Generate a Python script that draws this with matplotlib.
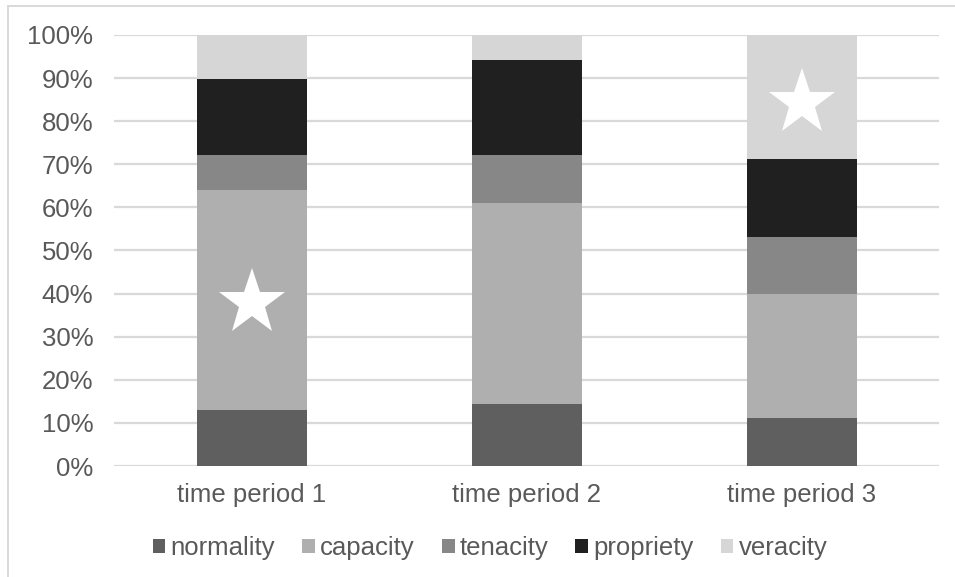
import matplotlib
matplotlib.use("Agg")
import matplotlib.pyplot as plt
import matplotlib.patches as mpatches
import numpy as np

plt.rcParams['font.family'] = ['Liberation Sans', 'DejaVu Sans']

# data (percent of each period)
periods = ["time period 1", "time period 2", "time period 3"]
series = ["normality", "capacity", "tenacity", "propriety", "veracity"]
normality = [13.0, 14.5, 11.1]
capacity = [51.0, 46.5, 28.8]
tenacity = [8.1, 11.1, 13.3]
propriety = [17.6, 22.0, 18.0]
veracity = [10.3, 5.9, 28.8]
colors = ["#5f5f5f", "#afafaf", "#878787", "#202020", "#d6d6d6"]

# white stars drawn on top of some bars
star_bars = [0, 2]
star_values = [37.8, 84.2]

text_color = "#595959"
grid_color = "#d9d9d9"

fig = plt.figure(figsize=(9.55, 5.77), dpi=100)
ax = fig.add_axes([114/955, 1 - 466/577, (939 - 114)/955, (466 - 35)/577])

x = np.arange(len(periods))
bottom = np.zeros(len(periods))
for name, vals, c in zip(series, [normality, capacity, tenacity, propriety, veracity], colors):
    ax.bar(x, vals, width=0.4, bottom=bottom, color=c, label=name, zorder=2)
    bottom += np.array(vals)

ax.plot(x[star_bars], star_values, linestyle="none", marker="*", markersize=50,
        color="white", markeredgewidth=0, zorder=3)

ax.set_xlim(-0.5, 2.5)
ax.set_ylim(0, 100)
ax.set_yticks(np.arange(0, 101, 10))
ax.set_yticklabels([f"{v}%" for v in range(0, 101, 10)])
ax.set_xticks(x)
ax.set_xticklabels(periods)
ax.yaxis.grid(True, color=grid_color, linewidth=1.6, zorder=0)
ax.set_axisbelow(True)
for s in ax.spines.values():
    s.set_visible(False)
ax.tick_params(axis="both", length=0, labelsize=18.5, colors=text_color)
ax.tick_params(axis="y", pad=15)
ax.tick_params(axis="x", pad=12)

fig.legend(loc="center", bbox_to_anchor=(490/955, 1 - 548/577), ncol=5, frameon=False,
           fontsize=18.5, labelcolor=text_color, handlelength=0.5, handleheight=0.5,
           handletextpad=0.2, columnspacing=1.05)

# chart border (left and top edges visible)
fig.add_artist(mpatches.Rectangle((8/955, -0.1), 1.0, 1.1 - 6/577, transform=fig.transFigure,
                                  fill=False, edgecolor=grid_color, linewidth=1.4))

fig.savefig("out.png", dpi=100)
